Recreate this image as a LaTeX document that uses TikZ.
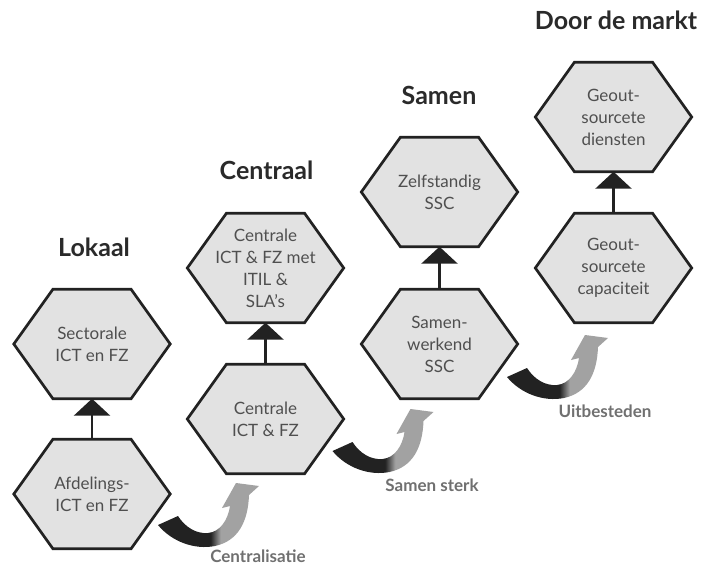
\documentclass[tikz,border=0pt]{standalone}
\usepackage{fontspec}
\setmainfont{Lato}
\usetikzlibrary{arrows.meta,calc,backgrounds}
\definecolor{hexfill}{HTML}{E2E2E2}
\definecolor{hexline}{HTML}{222222}
\definecolor{txt}{HTML}{4F4F4F}
\definecolor{headc}{HTML}{2A2A2A}
\definecolor{lblc}{HTML}{707070}
\definecolor{swdark}{HTML}{222222}
\definecolor{swlight}{HTML}{A2A2A2}
\pgfdeclarehorizontalshading{swoosh}{100bp}{color(0bp)=(swdark); color(51bp)=(swdark); color(56bp)=(swlight); color(100bp)=(swlight)}
\begin{document}
\begin{tikzpicture}[x=1pt,y=-1pt,
  hexnode/.style={minimum width=156pt, minimum height=109pt, inner sep=0pt, align=center, text=txt, font=\fontsize{17}{22}\selectfont},
  heading/.style={anchor=base, text=headc, font=\fontsize{25}{30}\selectfont\bfseries},
  lbl/.style={text=lblc, font=\fontsize{17}{20}\selectfont\bfseries},
  hexshape/.style={fill=hexfill, draw=hexline, line width=2.7pt, line join=miter},
  conn/.style={draw=hexline, line width=2.7pt, -{Triangle[width=36pt,length=17pt]}},
  swooshfill/.style={shading=swoosh}
]
\useasboundingbox (0,0) rectangle (701,567);

% headings
\node[heading] (hLok) at (94,256) {Lokaal};
\node[heading] (hCen) at (266.5,179) {Centraal};
\node[heading] (hSam) at (439,105) {Samen};
\node[heading] (hDoor) at (616,30) {Door de markt};

% hexagon nodes
\node[hexnode] (a0) at (92,494) {Afdelings-\\ICT en FZ};
\node[hexnode] (a1) at (92,344) {Sectorale\\ICT en FZ};
\node[hexnode] (b0) at (265.5,419) {Centrale\\ICT \& FZ};
\node[hexnode] (b1) at (265.5,268) {Centrale\\ICT \& FZ met\\ITIL \&\\SLA's};
\node[hexnode] (c0) at (439.5,344) {Samen-\\werkend\\SSC};
\node[hexnode] (c1) at (439.5,192) {Zelfstandig\\SSC};
\node[hexnode] (d0) at (613.5,268) {Geout-\\sourcete\\capaciteit};
\node[hexnode] (d1) at (613.5,117) {Geout-\\sourcete\\diensten};

\begin{pgfonlayer}{background}
  \fill[white] (0,0) rectangle (701,567);
  \foreach \n in {a0,a1,b0,b1,c0,c1,d0,d1}{
    \path[hexshape] (\n.west)
      -- ($(\n.north west)!.25!(\n.north east)$)
      -- ($(\n.north west)!.75!(\n.north east)$)
      -- (\n.east)
      -- ($(\n.south west)!.75!(\n.south east)$)
      -- ($(\n.south west)!.25!(\n.south east)$)
      -- cycle;
  }
\end{pgfonlayer}

% vertical connectors
\draw[conn] (a0.north) -- (a1.south);
\draw[conn] (b0.north) -- (b1.south);
\draw[conn] (c0.north) -- (c1.south);
\draw[conn] (d0.north) -- (d1.south);

% curved transition arrows
\coordinate (sw1) at (158,525);
\coordinate (sw2) at (332.5,451);
\coordinate (sw3) at (507,377);
\foreach \s in {sw1,sw2,sw3}{
  \begin{scope}[shift={(\s)}]
    \shade[swooshfill] (0,0) .. controls (14,17) and (37,25) .. (57,21)
      .. controls (80,16) and (90,-3) .. (91,-30) -- (101,-39) -- (78,-42)
      -- (64,-17) -- (72,-19) .. controls (70,-5) and (62,7) .. (50,8)
      .. controls (38,9) and (27,2) .. (20,-9) -- cycle;
  \end{scope}
}

% labels
\node[lbl] (l1) at (258,556) {Centralisatie};
\node[lbl] (l2) at (432,485) {Samen sterk};
\node[lbl] (l3) at (605,411) {Uitbesteden};
\end{tikzpicture}
\end{document}
